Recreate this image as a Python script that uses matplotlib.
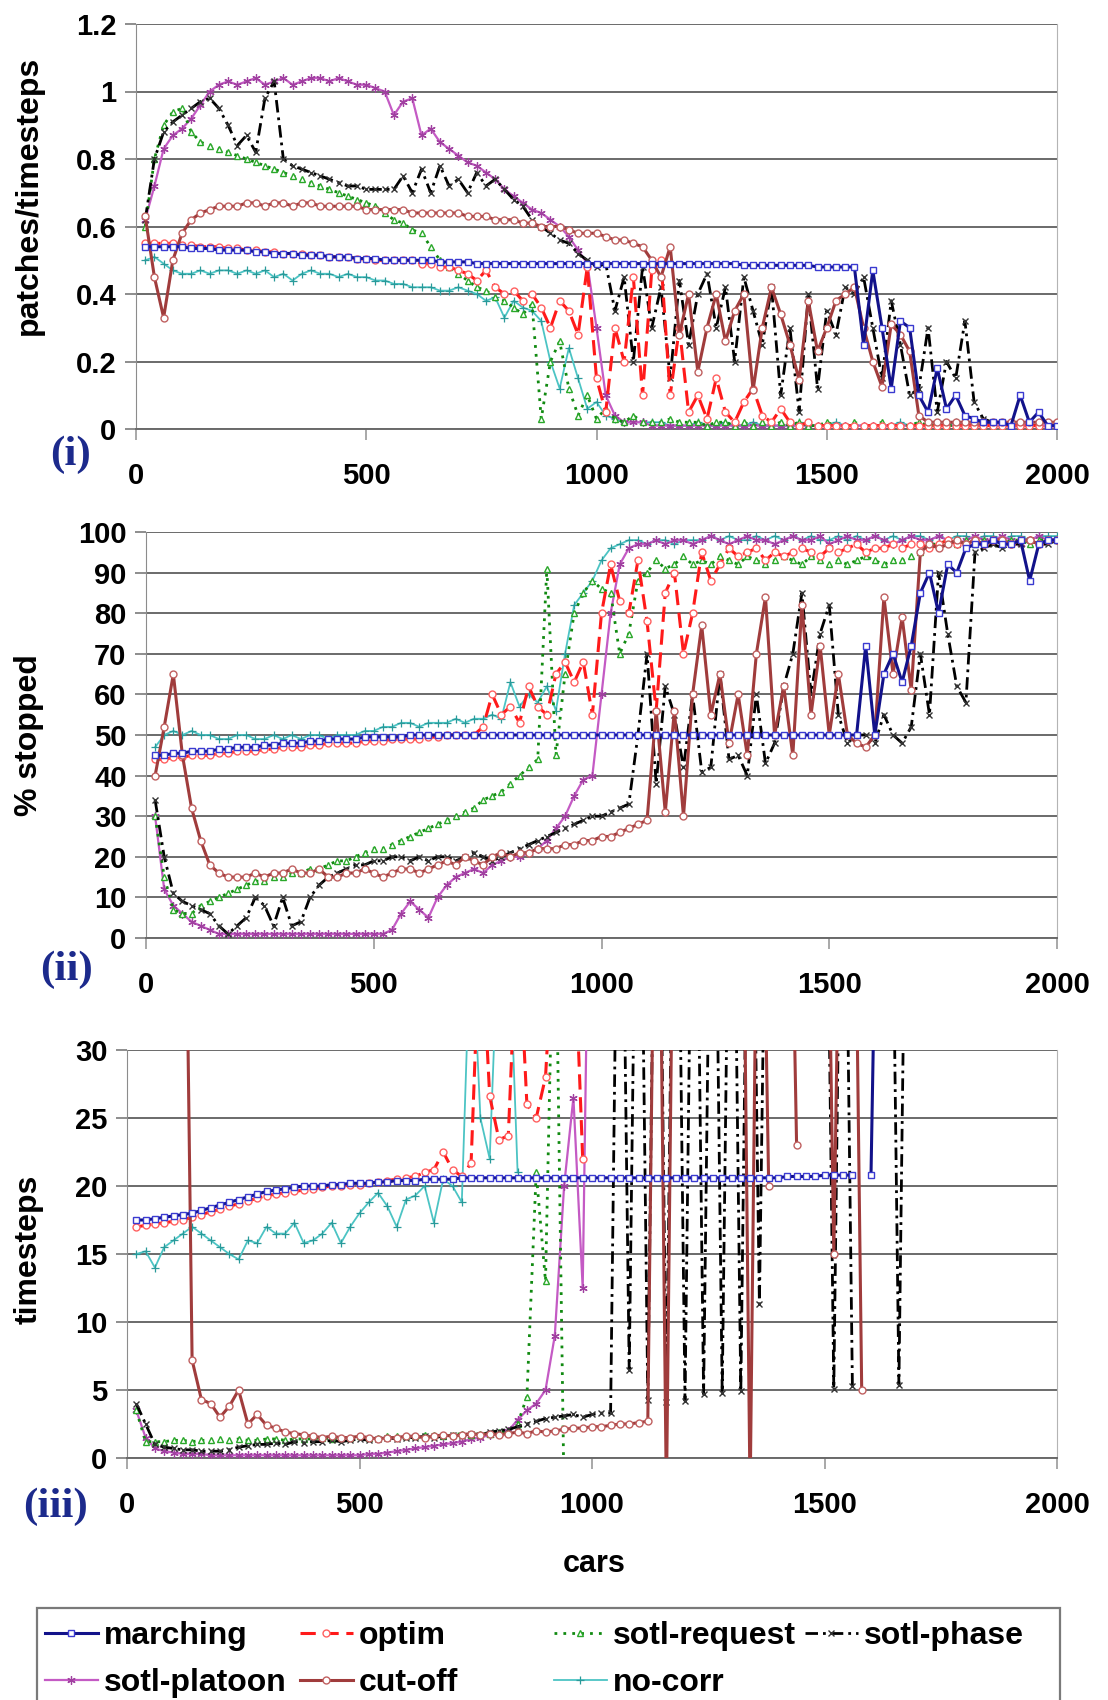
import matplotlib.pyplot as plt
from matplotlib.lines import Line2D
from matplotlib.patches import Rectangle

nan = float('nan')

# x positions (number of cars), one value every 20 cars
cars = list(range(20, 2001, 20))

x_ticks = [0, 500, 1000, 1500, 2000]
x_tick_labels = ['0', '500', '1000', '1500', '2000']
p1_ticks = [0, 0.2, 0.4, 0.6, 0.8, 1.0, 1.2]
p1_tick_labels = ['0', '0.2', '0.4', '0.6', '0.8', '1', '1.2']
p2_ticks = [0, 10, 20, 30, 40, 50, 60, 70, 80, 90, 100]
p2_tick_labels = [str(v) for v in p2_ticks]
p3_ticks = [0, 5, 10, 15, 20, 25, 30]
p3_tick_labels = [str(v) for v in p3_ticks]

series_names = ['marching', 'optim', 'sotl-request', 'sotl-phase',
                'sotl-platoon', 'cut-off', 'no-corr']

# ---- panel (i): patches/timesteps ----
p1_marching = [
    .54, .54, .54, .54, .54, .535, .535, .535, .53, .53,
    .53, .53, .525, .525, .52, .52, .52, .515, .515, .515,
    .51, .51, .51, .505, .505, .505, .50, .50, .50, .50,
    .50, .50, .495, .495, .495, .495, .49, .49, .49, .49,
    .49, .49, .49, .49, .49, .49, .49, .49, .49, .49,
    .49, .49, .49, .49, .49, .49, .49, .49, .49, .49,
    .49, .49, .49, .49, .49, .485, .485, .485, .485, .485,
    .485, .485, .485, .48, .48, .48, .48, .48, .25, .47,
    .30, .12, .32, .30, .10, .05, .18, .06, .10, .04,
    .03, .02, .02, .02, .01, .10, .02, .05, .01, .01]
p1_optim = [
    .55, .55, .55, .55, .545, .545, .54, .54, .54, .535,
    .535, .53, .53, .525, .525, .52, .52, .52, .515, .515,
    .51, .51, .51, .505, .505, .50, .50, .50, .50, .50,
    .49, .49, .48, .48, .47, .46, .44, .47, .42, .40,
    .41, .38, .40, .36, .30, .38, .35, .28, .48, .15,
    .05, .30, .20, .45, .10, .47, .50, .10, .30, .05,
    .10, .03, .15, .05, .02, .08, .12, .04, .02, .06,
    .02, .01, .02, .01, .01, .01, .01, .01, .01, .01,
    .01, .01, .01, .01, .01, .01, .01, .01, .01, .01,
    .01, .01, .01, .01, .01, .01, .01, .01, .01, .01]
p1_request = [
    .60, .80, .90, .94, .95, .88, .85, .84, .83, .82,
    .81, .80, .79, .78, .77, .76, .75, .74, .73, .72,
    .71, .70, .69, .68, .67, .66, .64, .62, .61, .59,
    .58, .54, .50, .48, .46, .44, .42, .41, .39, .38,
    .36, .34, .37, .03, .20, .26, .12, .04, .10, .03,
    .06, .03, .02, .04, .02, .02, .02, .03, .02, .02,
    .02, .01, .02, .02, .01, .02, .01, .02, .01, .02,
    .01, .02, .01, .01, .02, .01, .01, .02, .01, .01,
    .02, .01, .01, .01, .02, .01, .01, .01, .01, .01,
    .01, .01, .01, .01, .01, .01, .01, .01, .01, .01]
p1_phase = [
    .62, .80, .88, .91, .93, .95, .97, .98, .95, .90,
    .84, .87, .82, .98, 1.03, .80, .78, .77, .76, .75,
    .74, .73, .72, .72, .71, .71, .71, .71, .75, .70,
    .77, .70, .78, .72, .74, .70, .76, .72, .74, .71,
    .68, .66, .62, .60, .58, .56, .55, .52, .50, .48,
    .49, .35, .45, .20, .48, .30, .42, .15, .44, .25,
    .40, .46, .30, .42, .20, .45, .35, .25, .42, .10,
    .30, .05, .40, .12, .35, .28, .42, .40, .45, .30,
    .15, .38, .25, .10, .12, .30, .05, .20, .15, .32,
    .08, .03, .02, .02, .01, .01, .01, .01, .01, .01]
p1_platoon = [
    .62, .72, .83, .87, .89, .92, .96, 1.0, 1.02, 1.03,
    1.02, 1.03, 1.04, 1.02, 1.03, 1.04, 1.02, 1.03, 1.04, 1.04,
    1.03, 1.04, 1.03, 1.02, 1.02, 1.01, 1.00, .93, .97, .98,
    .87, .89, .85, .83, .81, .79, .78, .76, .74, .71,
    .69, .67, .65, .64, .62, .60, .57, .53, .49, .30,
    .10, .04, .02, .02, .02, .01, .01, .01, .01, .01,
    .01, .01, .01, .01, .01, .01, .01, .01, .01, .01,
    .01, .01, .01, .01, .01, .01, .01, .01, .01, .01,
    .01, .01, .01, .01, .01, .01, .01, .01, .01, .01,
    .01, .01, .01, .01, .01, .01, .01, .01, .01, .01]
p1_cutoff = [
    .63, .45, .33, .50, .58, .62, .64, .65, .66, .66,
    .66, .67, .67, .66, .67, .67, .66, .67, .67, .66,
    .66, .66, .66, .66, .65, .65, .65, .65, .65, .64,
    .64, .64, .64, .64, .64, .63, .63, .63, .62, .62,
    .62, .61, .61, .60, .60, .60, .59, .58, .58, .58,
    .57, .56, .56, .55, .54, .50, .45, .54, .28, .40,
    .17, .30, .40, .26, .35, .40, .115, .30, .42, .34,
    .25, .145, .38, .23, .30, .38, .40, .42, .30, .20,
    .125, .31, .28, .23, .04, .02, .02, .02, .02, .02,
    .02, .02, .02, .02, .02, .02, .02, .02, .02, .02]
p1_nocorr = [
    .50, .51, .49, .47, .46, .46, .47, .46, .47, .47,
    .46, .47, .46, .47, .45, .46, .44, .46, .47, .46,
    .46, .45, .46, .45, .45, .44, .44, .43, .43, .42,
    .42, .42, .41, .41, .42, .41, .40, .38, .39, .33,
    .38, .36, .35, .32, .20, .12, .24, .15, .06, .08,
    .04, .03, .02, .02, .02, .02, .02, .01, .01, .01,
    .02, .01, .01, .02, .01, .01, .02, .01, .01, .01,
    .01, .02, .01, .01, .01, .02, .01, .01, .01, .01,
    .01, .01, .02, .01, .01, .01, .01, .01, .02, .01,
    .01, .01, .01, .01, .01, .01, .01, .01, .01, .01]

# ---- panel (ii): % stopped ----
p2_marching = [
    45, 45, 45.5, 45.5, 46, 46, 46, 46.5, 46.5, 47,
    47, 47, 47.5, 47.5, 48, 48, 48, 48.5, 48.5, 49,
    49, 49, 49, 49.5, 49.5, 49.5, 49.5, 49.5, 50, 50,
    50, 50, 50, 50, 50, 50, 50, 50, 50, 50,
    50, 50, 50, 50, 50, 50, 50, 50, 50, 50,
    50, 50, 50, 50, 50, 50, 50, 50, 50, 50,
    50, 50, 50, 50, 50, 50, 50, 50, 50, 50,
    50, 50, 50, 50, 50, 50, 50, 50, 72, 50,
    65, 70, 63, 72, 85, 90, 80, 92, 90, 96,
    97, 97, 98, 97, 97, 98, 88, 97, 98, 98]
p2_optim = [
    44, 44, 44.5, 44.5, 45, 45, 45, 45.5, 45.5, 46,
    46, 46, 46.5, 46.5, 47, 47, 47, 47.5, 47.5, 48,
    48, 48, 48, 48.5, 48.5, 48.5, 49, 49, 49, 49,
    49.5, 49.5, 50, 50, 50, 50, 52, 60, 55, 57,
    53, 62, 57, 55, 65, 68, 63, 68, 55, 80,
    92, 83, 80, 93, 78, 56, 85, 90, 70, 80,
    95, 88, 92, 96, 94, 95, 96, 93, 95, 94,
    95, 96, 95, 94, 96, 95, 96, 97, 95, 96,
    96, 97, 96, 97, 97, 96, 97, 98, 97, 97,
    98, 97, 98, 98, 97, 98, 98, 97, 98, 98]
p2_request = [
    30, 15, 7, 6, 6, 8, 9, 10, 11, 12,
    13, 14, 14, 15, 15, 16, 16, 17, 17, 18,
    19, 19, 20, 21, 22, 22, 23, 24, 25, 26,
    27, 28, 29, 30, 31, 32, 34, 35, 36, 38,
    40, 42, 44, 91, 45, 65, 80, 85, 88, 86,
    85, 70, 75, 88, 90, 93, 91, 92, 94, 92,
    93, 92, 94, 93, 92, 94, 93, 92, 93, 94,
    93, 92, 94, 93, 92, 93, 92, 93, 94, 93,
    92, 93, 93, 94, 95, 97, 97, 98, 97, 98,
    97, 98, 98, 97, 98, 98, 97, 98, 98, 98]
p2_phase = [
    34, 20, 11, 9, 8, 7, 6, 3, 1, 3,
    5, 10, 8, 3, 10, 3, 4, 10, 13, 15,
    16, 17, 18, 18, 19, 19, 20, 20, 19, 20,
    19, 20, 20, 19, 20, 21, 20, 19, 20, 21,
    22, 23, 24, 25, 26, 27, 28, 29, 30, 30,
    31, 32, 33, 50, 70, 38, 62, 55, 42, 60,
    41, 42, 65, 44, 45, 40, 60, 43, 48, 62,
    70, 85, 60, 75, 82, 55, 48, 50, 50, 48,
    55, 50, 48, 52, 70, 55, 90, 75, 62, 58,
    95, 96, 97, 96, 97, 97, 98, 97, 97, 98]
p2_platoon = [
    30, 12, 8, 6, 4, 3, 2, 1, 1, 1,
    1, 1, 1, 1, 1, 1, 1, 1, 1, 1,
    1, 1, 1, 1, 1, 1, 2, 6, 9, 7,
    5, 10, 13, 15, 16, 17, 16, 18, 19, 20,
    20, 21, 22, 24, 27, 30, 35, 39, 40, 60,
    80, 92, 96, 97, 97, 98, 97, 98, 98, 97,
    98, 99, 98, 97, 98, 99, 98, 98, 97, 98,
    99, 98, 98, 99, 97, 98, 99, 98, 98, 99,
    98, 97, 98, 99, 98, 98, 99, 98, 97, 98,
    99, 98, 98, 99, 98, 97, 98, 99, 98, 98]
p2_cutoff = [
    40, 52, 65, 45, 32, 24, 18, 16, 15, 15,
    15, 16, 15, 16, 16, 17, 16, 16, 17, 15,
    15, 16, 16, 17, 16, 15, 16, 17, 17, 16,
    17, 18, 19, 18, 20, 19, 18, 20, 21, 20,
    21, 21, 22, 22, 22, 23, 23, 24, 24, 25,
    25, 26, 27, 28, 29, 56, 31, 56, 30, 60,
    77, 55, 65, 48, 60, 45, 70, 84, 50, 62,
    45, 82, 55, 72, 50, 65, 50, 48, 47, 50,
    84, 65, 79, 61, 95, 97, 96, 97, 98, 97,
    98, 97, 98, 98, 97, 98, 98, 97, 98, 98]
p2_nocorr = [
    47, 50, 51, 50, 51, 50, 50, 49, 49, 50,
    50, 49, 49, 50, 49, 50, 49, 50, 50, 49,
    50, 50, 50, 51, 51, 52, 52, 53, 53, 52,
    53, 53, 53, 54, 53, 54, 54, 55, 54, 63,
    57, 60, 58, 62, 56, 70, 82, 85, 88, 93,
    96, 97, 98, 98, 97, 98, 98, 97, 98, 98,
    98, 99, 98, 99, 98, 98, 99, 98, 99, 98,
    99, 98, 99, 98, 98, 99, 98, 99, 98, 99,
    98, 99, 98, 99, 99, 98, 99, 98, 99, 99,
    98, 99, 99, 98, 99, 99, 98, 99, 99, 99]

# ---- panel (iii): timesteps ----
p3_marching = [
    17.5, 17.5, 17.6, 17.7, 17.8, 17.9, 18.0, 18.2, 18.4, 18.6,
    18.8, 19.0, 19.2, 19.4, 19.6, 19.7, 19.8, 19.9, 20.0, 20.0,
    20.0, 20.1, 20.1, 20.2, 20.2, 20.2, 20.3, 20.3, 20.4, 20.4,
    20.4, 20.5, 20.5, 20.5, 20.5, 20.6, 20.6, 20.6, 20.6, 20.6,
    20.6, 20.6, 20.6, 20.6, 20.6, 20.6, 20.6, 20.6, 20.6, 20.6,
    20.6, 20.6, 20.6, 20.6, 20.6, 20.6, 20.6, 20.6, 20.6, 20.6,
    20.6, 20.6, 20.6, 20.6, 20.6, 20.6, 20.6, 20.6, 20.6, 20.6,
    20.7, 20.7, 20.7, 20.7, 20.8, 20.8, 20.8, 20.8, nan, 20.8,
    60, nan, nan, nan, nan, nan, nan, nan, nan, nan,
    nan, nan, nan, nan, nan, nan, nan, nan, nan, nan]
p3_optim = [
    17.0, 17.1, 17.2, 17.3, 17.4, 17.5, 17.7, 17.9, 18.1, 18.3,
    18.5, 18.7, 18.9, 19.1, 19.3, 19.4, 19.5, 19.6, 19.7, 19.8,
    19.9, 20.0, 20.0, 20.1, 20.1, 20.2, 20.3, 20.4, 20.5, 20.6,
    20.7, 21.0, 21.2, 22.5, 21.2, 20.7, 21.7, 40, 26.6, 23.4,
    23.7, 40, 26, 25, 28, 40, nan, 40, 22, nan,
    nan, nan, nan, nan, nan, nan, nan, nan, nan, nan,
    nan, nan, nan, nan, nan, nan, nan, nan, nan, nan,
    nan, nan, nan, nan, nan, nan, nan, nan, nan, nan,
    nan, nan, nan, nan, nan, nan, nan, nan, nan, nan,
    nan, nan, nan, nan, nan, nan, nan, nan, nan, nan]
p3_request = [
    3.5, 1.2, 1.2, 1.2, 1.3, 1.3, 1.2, 1.3, 1.3, 1.4,
    1.3, 1.4, 1.3, 1.3, 1.4, 1.4, 1.3, 1.4, 1.4, 1.4,
    1.5, 1.4, 1.5, 1.5, 1.6, 1.5, 1.5, 1.6, 1.6, 1.6,
    1.6, 1.7, 1.7, 1.6, 1.7, 1.8, 1.7, 1.8, 1.8, 1.9,
    2.0, 2.5, 4.5, 21, 13, 45, -3, nan, nan, nan,
    nan, nan, nan, nan, nan, nan, nan, nan, nan, nan,
    nan, nan, nan, nan, nan, nan, nan, nan, nan, nan,
    nan, nan, nan, nan, nan, nan, nan, nan, nan, nan,
    nan, nan, nan, nan, nan, nan, nan, nan, nan, nan,
    nan, nan, nan, nan, nan, nan, nan, nan, nan, nan]
p3_phase = [
    4.0, 2.5, 1.0, 0.8, 0.7, 0.6, 0.6, 0.5, 0.5, 0.5,
    0.6, 0.8, 0.9, 1.0, 1.0, 1.1, 1.0, 1.2, 1.1, 1.2,
    1.2, 1.3, 1.2, 1.3, 1.4, 1.3, 1.4, 1.5, 1.4, 1.5,
    1.5, 1.6, 1.5, 1.6, 1.7, 1.6, 1.8, 1.7, 1.9, 2.0,
    2.1, 2.3, 2.5, 2.7, 2.9, 3.0, 3.1, 3.2, 3.0, 3.2,
    3.3, 3.3, 60, 6.5, 60, 4.3, 60, 4.1, 60, 4.2,
    60, 4.7, 60, 4.8, 60, 4.9, 60, 11.3, 60, nan,
    nan, nan, nan, nan, 60, 5.1, 60, 5.3, nan, nan,
    nan, 60, 5.4, 60, nan, nan, nan, nan, nan, nan,
    nan, nan, nan, nan, nan, nan, nan, nan, nan, nan]
p3_platoon = [
    3.5, 1.5, 0.7, 0.5, 0.4, 0.3, 0.3, 0.3, 0.2, 0.2,
    0.2, 0.2, 0.2, 0.2, 0.2, 0.2, 0.2, 0.2, 0.2, 0.2,
    0.2, 0.2, 0.2, 0.2, 0.2, 0.3, 0.3, 0.4, 0.5, 0.6,
    0.7, 0.8, 0.9, 1.0, 1.1, 1.2, 1.4, 1.5, 1.7, 1.8,
    2.0, 2.8, 3.5, 4.0, 5.0, 9.0, 20, 26.5, 12.5, 60,
    nan, nan, nan, nan, nan, nan, nan, nan, nan, nan,
    nan, nan, nan, nan, nan, nan, nan, nan, nan, nan,
    nan, nan, nan, nan, nan, nan, nan, nan, nan, nan,
    nan, nan, nan, nan, nan, nan, nan, nan, nan, nan,
    nan, nan, nan, nan, nan, nan, nan, nan, nan, nan]
p3_cutoff = [
    nan, nan, nan, nan, nan, 60, 7.2, 4.3, 4.0, 3.0,
    3.8, 5.0, 2.5, 3.2, 2.4, 2.2, 1.9, 1.8, 1.7, 1.6,
    1.5, 1.6, 1.5, 1.5, 1.6, 1.5, 1.4, 1.5, 1.5, 1.6,
    1.6, 1.5, 1.6, 1.7, 1.6, 1.7, 1.8, 1.7, 1.8, 1.7,
    1.8, 1.9, 1.8, 2.0, 1.9, 2.0, 2.1, 2.2, 2.2, 2.3,
    2.3, 2.4, 2.5, 2.5, 2.6, 2.7, 60, -3, 60, nan,
    nan, nan, nan, nan, nan, 60, -3, 60, 20, nan,
    60, 23, nan, nan, 60, 15, 60, 60, 5, nan,
    nan, nan, nan, nan, nan, nan, nan, nan, nan, nan,
    nan, nan, nan, nan, nan, nan, nan, nan, nan, nan]
p3_nocorr = [
    15, 15.2, 14, 15.5, 16, 16.5, 17, 16.5, 16, 15.5,
    15, 14.6, 16, 15.8, 17, 16.5, 16.5, 17.3, 15.8, 16,
    16.5, 17.3, 15.8, 17, 18, 18.8, 19.5, 18.5, 17, 19,
    19.3, 20.0, 17.3, 20.5, 20.0, 18.8, 40, 25, 22, 40,
    40, 21, nan, nan, nan, nan, nan, nan, nan, nan,
    nan, nan, nan, nan, nan, nan, nan, nan, nan, nan,
    nan, nan, nan, nan, nan, nan, nan, nan, nan, nan,
    nan, nan, nan, nan, nan, nan, nan, nan, nan, nan,
    nan, nan, nan, nan, nan, nan, nan, nan, nan, nan,
    nan, nan, nan, nan, nan, nan, nan, nan, nan, nan]

panel1 = [p1_marching, p1_optim, p1_request, p1_phase, p1_platoon, p1_cutoff, p1_nocorr]
panel2 = [p2_marching, p2_optim, p2_request, p2_phase, p2_platoon, p2_cutoff, p2_nocorr]
panel3 = [p3_marching, p3_optim, p3_request, p3_phase, p3_platoon, p3_cutoff, p3_nocorr]

# line styles for each series
styles = {
    'marching': dict(color='#12128a', lw=2.2, ls='-', marker='s', ms=5,
                     mfc='white', mec='#3a3ad0', mew=1.0, zorder=9),
    'optim': dict(color='#ff1a1a', lw=2.2, ls=(0, (5, 2.5)), marker='o', ms=5,
                  mfc='white', mec='#ff6060', mew=1.0, zorder=7),
    'sotl-request': dict(color='#118a11', lw=2.0, ls=(0, (1, 2.2)), marker='^', ms=5,
                         mfc='white', mec='#2aa82a', mew=1.0, zorder=5),
    'sotl-phase': dict(color='black', lw=2.0, ls=(0, (4.5, 1.8, 1, 1.8)), marker='x', ms=5,
                       mec='#333333', mew=1.0, zorder=6),
    'sotl-platoon': dict(color='#c45ac4', lw=1.6, ls='-', marker=(6, 2, 0), ms=6,
                         mec='#a040a0', mew=0.9, zorder=4),
    'cut-off': dict(color='#a03c3c', lw=2.2, ls='-', marker='o', ms=5,
                    mfc='white', mec='#c06060', mew=1.0, zorder=8),
    'no-corr': dict(color='#4cc4c4', lw=1.3, ls='-', marker='+', ms=6,
                    mec='#2a9a9a', mew=0.9, zorder=3),
}

plt.rcParams['font.family'] = ['Liberation Sans', 'DejaVu Sans']

W, H = 1108, 1700
fig = plt.figure(figsize=(W / 100, H / 100), dpi=100)


def box(left, right, top, bottom):
    return [left / W, 1 - bottom / H, (right - left) / W, (bottom - top) / H]


ax1 = fig.add_axes(box(136, 1057, 24, 429))
ax2 = fig.add_axes(box(146, 1057, 532, 938))
ax3 = fig.add_axes(box(127, 1057, 1050, 1458))

panels = [(ax1, panel1, p1_ticks, p1_tick_labels),
          (ax2, panel2, p2_ticks, p2_tick_labels),
          (ax3, panel3, p3_ticks, p3_tick_labels)]

for ax, data, yt, ytl in panels:
    for name, values in zip(series_names, data):
        ax.plot(cars, values, **styles[name])
    ax.set_xlim(0, 2000)
    ax.set_ylim(yt[0], yt[-1])
    ax.set_xticks(x_ticks)
    ax.set_xticklabels(x_tick_labels, fontsize=21, fontweight='bold')
    ax.set_yticks(yt)
    ax.set_yticklabels(ytl, fontsize=21, fontweight='bold')
    ax.yaxis.grid(True, color='#6a6a6a', lw=1.4)
    ax.xaxis.grid(False)
    ax.set_axisbelow(True)
    ax.spines['top'].set_visible(False)
    ax.spines['right'].set_color('#b4b4b4')
    ax.spines['left'].set_color('#8c8c8c')
    ax.spines['bottom'].set_color('#6a6a6a')
    ax.spines['bottom'].set_linewidth(1.4)
    ax.tick_params(axis='x', length=8, width=1.2, color='#9a9a9a', pad=16)
    ax.tick_params(axis='y', length=8, width=1.2, color='#7a7a7a', pad=6)

# axis titles
fig.text(29 / W, 1 - 195 / H, 'patches/timesteps', rotation=90, ha='center', va='center',
         fontsize=23, fontweight='bold')
fig.text(29 / W, 1 - 735 / H, '% stopped', rotation=90, ha='center', va='center',
         fontsize=23, fontweight='bold')
fig.text(29 / W, 1 - 1249 / H, 'timesteps', rotation=90, ha='center', va='center',
         fontsize=23, fontweight='bold')
fig.text(594 / W, 1 - 1564 / H, 'cars', ha='center', va='center',
         fontsize=22, fontweight='bold')

# panel tags
for tag, (px, py) in zip(['(i)', '(ii)', '(iii)'], [(70, 455), (66, 970), (56, 1507)]):
    fig.text(px / W, 1 - py / H, tag, ha='center', va='center', fontsize=31,
             fontweight='bold', family=['Liberation Serif', 'DejaVu Serif'], color='#1c2a8c')

# legend: framed box at the bottom, four evenly spaced columns
fig.add_artist(Rectangle((37 / W, -0.01), (1060 - 37) / W, 0.01 + (1700 - 1608) / H,
                         transform=fig.transFigure, fill=False,
                         edgecolor='#7a7a7a', lw=1.6))
columns = [['marching', 'sotl-platoon'], ['optim', 'cut-off'],
           ['sotl-request', 'no-corr'], ['sotl-phase']]
column_x = [45, 300, 554, 805]
for names, cx in zip(columns, column_x):
    leg = fig.legend([Line2D([], [], **styles[n]) for n in names], names,
                     loc='upper left', bbox_to_anchor=(cx / W, 1 - 1621 / H),
                     frameon=False, borderpad=0, borderaxespad=0,
                     handlelength=1.65, handletextpad=0.2, labelspacing=0.54,
                     prop={'weight': 'bold', 'size': 23})

fig.savefig('out.png', dpi=100)
